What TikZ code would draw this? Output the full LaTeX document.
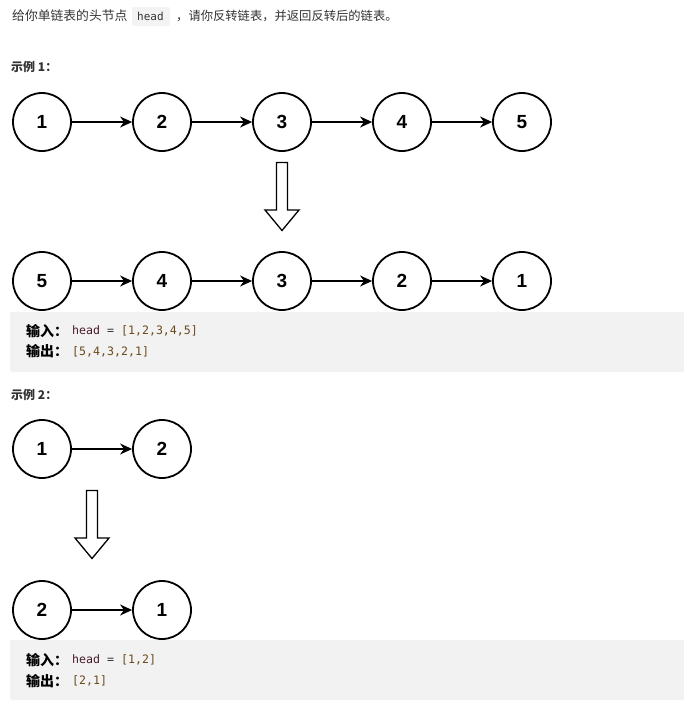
\documentclass[tikz,border=0pt]{standalone}
\usepackage{fontspec}
\setmainfont{Liberation Sans}
\newfontfamily\cjk{Noto Sans CJK SC}
\newfontfamily\numfont{Liberation Sans}
\setmonofont{DejaVu Sans Mono}
\usetikzlibrary{arrows.meta}
\definecolor{txt}{HTML}{333333}
\definecolor{codebg}{HTML}{F2F2F2}
\definecolor{inlinebg}{HTML}{F3F3F3}
\definecolor{kw}{HTML}{4A1A2A}
\definecolor{lit}{HTML}{6A4A1A}
\tikzset{
  lnode/.style={circle, draw=black, line width=1.8pt, minimum size=58pt, inner sep=0pt, font=\numfont\bfseries\fontsize{19}{19}\selectfont},
  link/.style={-{Stealth[length=12pt,width=11pt]}, line width=1.3pt},
  bigarrow/.style={draw=black, line width=1.3pt, fill=white},
  label/.style={anchor=west, inner sep=0pt, text=txt, font=\cjk\bfseries\fontsize{12}{14}\selectfont},
  iolabel/.style={anchor=west, inner sep=0pt, text=black, font=\cjk\bfseries\fontsize{14}{16}\selectfont},
  codeline/.style={anchor=west, inner sep=0pt, text=txt, font=\ttfamily\fontsize{11.6}{13}\selectfont},
  codebox/.style={fill=codebg, draw=none, rounded corners=2pt}
}
\begin{document}
\begin{tikzpicture}[x=1pt,y=-1pt]
\useasboundingbox (0,0) rectangle (683,707);
% intro text
\fill[inlinebg, rounded corners=2pt] (132,7) rectangle (170,26);
\node[anchor=west, inner sep=0pt, text=txt, font=\cjk\fontsize{12.8}{14}\selectfont] (intro1) at (12,16) {给你单链表的头节点};
\node[anchor=west, inner sep=0pt, text=txt, font=\ttfamily\fontsize{11}{13}\selectfont] (introcode) at (137,16.5) {head};
\node[anchor=west, inner sep=0pt, text=txt, font=\cjk\fontsize{12.3}{14}\selectfont] (intro2) at (176,16) {，请你反转链表，并返回反转后的链表。};
% example 1
\node[label] (ex1) at (11,67) {示例 1：};
\foreach \v [count=\i] in {1,2,3,4,5}{
  \node[lnode] (a\i) at ({42+120*(\i-1)},122) {\v};
}
\foreach \i/\j in {1/2,2/3,3/4,4/5}{ \draw[link] (a\i) -- (a\j); }
\draw[bigarrow] (276.5,162.5) -- (287.5,162.5) -- (287.5,210) -- (299,210) -- (282,230.5) -- (265,210) -- (276.5,210) -- cycle;
\foreach \v [count=\i] in {5,4,3,2,1}{
  \node[lnode] (b\i) at ({42+120*(\i-1)},281) {\v};
}
\foreach \i/\j in {1/2,2/3,3/4,4/5}{ \draw[link] (b\i) -- (b\j); }
\fill[codebox] (10,312) rectangle (690,372);
\node[iolabel] (in1) at (26,331) {输入：};
\node[codeline] (in1c) at (72,331) {\textcolor{kw}{head} = \textcolor{lit}{[1,2,3,4,5]}};
\node[iolabel] (out1) at (26,351.5) {输出：};
\node[codeline] (out1c) at (72,351.5) {\textcolor{lit}{[5,4,3,2,1]}};
% example 2
\node[label] (ex2) at (11,395) {示例 2：};
\node[lnode] (c1) at (42,449) {1};
\node[lnode] (c2) at (162,449) {2};
\draw[link] (c1) -- (c2);
\draw[bigarrow] (86.5,490.5) -- (97.5,490.5) -- (97.5,538) -- (109,538) -- (92,558.5) -- (75,538) -- (86.5,538) -- cycle;
\node[lnode] (d1) at (42,610) {2};
\node[lnode] (d2) at (162,610) {1};
\draw[link] (d1) -- (d2);
\fill[codebox] (10,640) rectangle (690,700);
\node[iolabel] (in2) at (26,660) {输入：};
\node[codeline] (in2c) at (72,660) {\textcolor{kw}{head} = \textcolor{lit}{[1,2]}};
\node[iolabel] (out2) at (26,681) {输出：};
\node[codeline] (out2c) at (72,681) {\textcolor{lit}{[2,1]}};
\end{tikzpicture}
\end{document}
